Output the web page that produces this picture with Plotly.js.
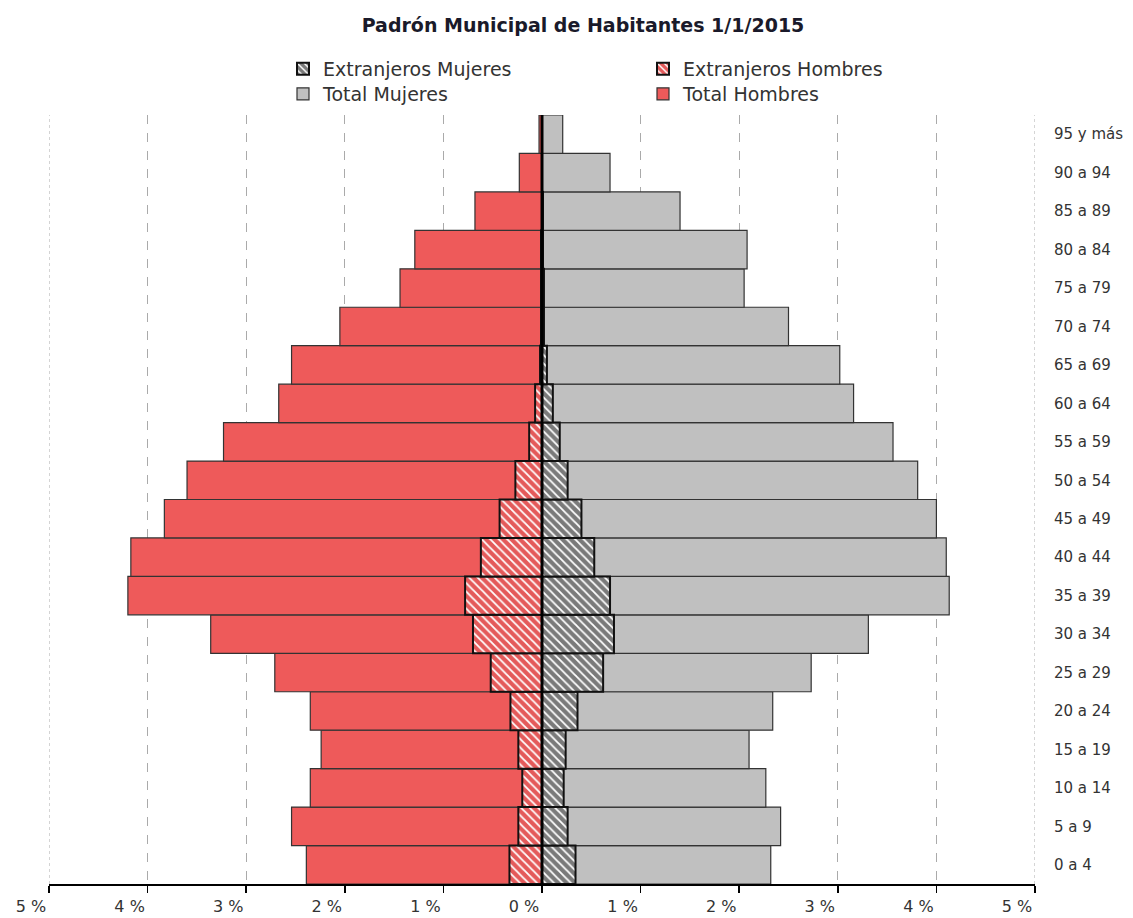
<!DOCTYPE html>
<html>
<head>
<meta charset="utf-8">
<script src="https://cdn.plot.ly/plotly-3.0.1.min.js"></script>
<style>html,body{margin:0;padding:0;background:#fff;}#chart{width:1133px;height:918px;}</style>
</head>
<body>
<div id="chart"></div>
<script>
var categories = ['0 a 4','5 a 9','10 a 14','15 a 19','20 a 24','25 a 29','30 a 34','35 a 39','40 a 44','45 a 49','50 a 54','55 a 59','60 a 64','65 a 69','70 a 74','75 a 79','80 a 84','85 a 89','90 a 94','95 y más'];
var totalHombres = [2.39,2.54,2.35,2.24,2.35,2.71,3.36,4.20,4.17,3.83,3.60,3.23,2.67,2.54,2.05,1.44,1.29,0.68,0.23,0.03];
var totalMujeres = [2.32,2.42,2.27,2.10,2.34,2.73,3.31,4.13,4.10,4.00,3.81,3.56,3.16,3.02,2.50,2.05,2.08,1.40,0.69,0.21];
var extHombres = [0.33,0.24,0.20,0.24,0.32,0.52,0.70,0.78,0.62,0.43,0.27,0.13,0.07,0.02,0.01,0.01,0.01,0.00,0.00,0.00];
var extMujeres = [0.34,0.26,0.22,0.24,0.36,0.62,0.73,0.69,0.53,0.40,0.26,0.18,0.11,0.05,0.02,0.02,0.01,0.01,0.00,0.00];
var tickVals = [-5,-4,-3,-2,-1,0,1,2,3,4,5];
var tickText = ['5 %','4 %','3 %','2 %','1 %','0 %','1 %','2 %','3 %','4 %','5 %'];

var neg = function(a){ return a.map(function(v){ return -v; }); };
var FONT = 'DejaVu Sans, Verdana, sans-serif';

var traces = [
  {type:'bar', orientation:'h', name:'Total Hombres', y:categories, x:neg(totalHombres),
   marker:{color:'#EE5A5A', line:{color:'#333', width:1.2}}, legend:'legend4', hoverinfo:'skip'},
  {type:'bar', orientation:'h', name:'Total Mujeres', y:categories, x:totalMujeres,
   marker:{color:'#C0C0C0', line:{color:'#333', width:1.2}}, legend:'legend3', hoverinfo:'skip'},
  {type:'bar', orientation:'h', name:'Extranjeros Hombres', y:categories, x:neg(extHombres),
   marker:{color:'#E45A5A', line:{color:'#111', width:2},
     pattern:{shape:'\\', fgcolor:'#ffffff', bgcolor:'#E45A5A', size:6, solidity:0.3, fillmode:'replace'}},
   legend:'legend2', hoverinfo:'skip'},
  {type:'bar', orientation:'h', name:'Extranjeros Mujeres', y:categories, x:extMujeres,
   marker:{color:'#7a7a7a', line:{color:'#111', width:2},
     pattern:{shape:'\\', fgcolor:'#ffffff', bgcolor:'#7a7a7a', size:6, solidity:0.3, fillmode:'replace'}},
   legend:'legend', hoverinfo:'skip'}
];

var legendBase = {orientation:'h', xanchor:'left', yanchor:'middle', bgcolor:'rgba(0,0,0,0)',
  font:{family:FONT, size:19, color:'#333'}, itemwidth:30};
function lg(x, y){ var o = JSON.parse(JSON.stringify(legendBase)); o.x = x; o.y = y; return o; }

var edgeGrid = function(v){ return {type:'line', xref:'x', yref:'paper', x0:v, x1:v, y0:0, y1:1, layer:'below',
  line:{color:'#aaaaaa', width:1, dash:'dot'}}; };

var layout = {
  width:1133, height:918,
  paper_bgcolor:'#ffffff', plot_bgcolor:'#ffffff',
  margin:{l:49, r:98, t:115, b:34},
  barmode:'overlay', bargap:0,
  title:{text:'<b>Padrón Municipal de Habitantes 1/1/2015</b>', x:(583-49)/986, xref:'paper', xanchor:'center',
    y:1-25/918, yanchor:'middle', font:{family:FONT, size:19, color:'#1a1a2a'}},
  xaxis:{range:[-5,5], tickvals:tickVals, ticktext:tickText, showgrid:true, gridcolor:'#aaaaaa',
    griddash:'dash', gridwidth:1, zeroline:false, showline:true, linecolor:'#000', linewidth:2,
    ticks:'outside', ticklen:7, tickwidth:1.5, tickcolor:'#000', ticklabelshift:-18,
    tickfont:{family:FONT, size:16, color:'#333'}, fixedrange:true},
  yaxis:{type:'category', categoryorder:'array', categoryarray:categories, side:'right',
    showgrid:false, zeroline:false, showline:false, ticks:'', ticklabelstandoff:18,
    tickfont:{family:FONT, size:15, color:'#333'}, range:[-0.5,19.5], fixedrange:true},
  legend: lg((283-49)/986, (884-69)/769),
  legend2: lg((643-49)/986, (884-69)/769),
  legend3: lg((283-49)/986, (884-94)/769),
  legend4: lg((643-49)/986, (884-94)/769),
  shapes:[edgeGrid(-5), edgeGrid(5),
    {type:'line', xref:'x', yref:'paper', x0:0, x1:0, y0:0, y1:1, layer:'above',
    line:{color:'#000', width:3}}],
  showlegend:true
};

Plotly.newPlot('chart', traces, layout, {displayModeBar:false, staticPlot:true});
</script>
</body>
</html>
